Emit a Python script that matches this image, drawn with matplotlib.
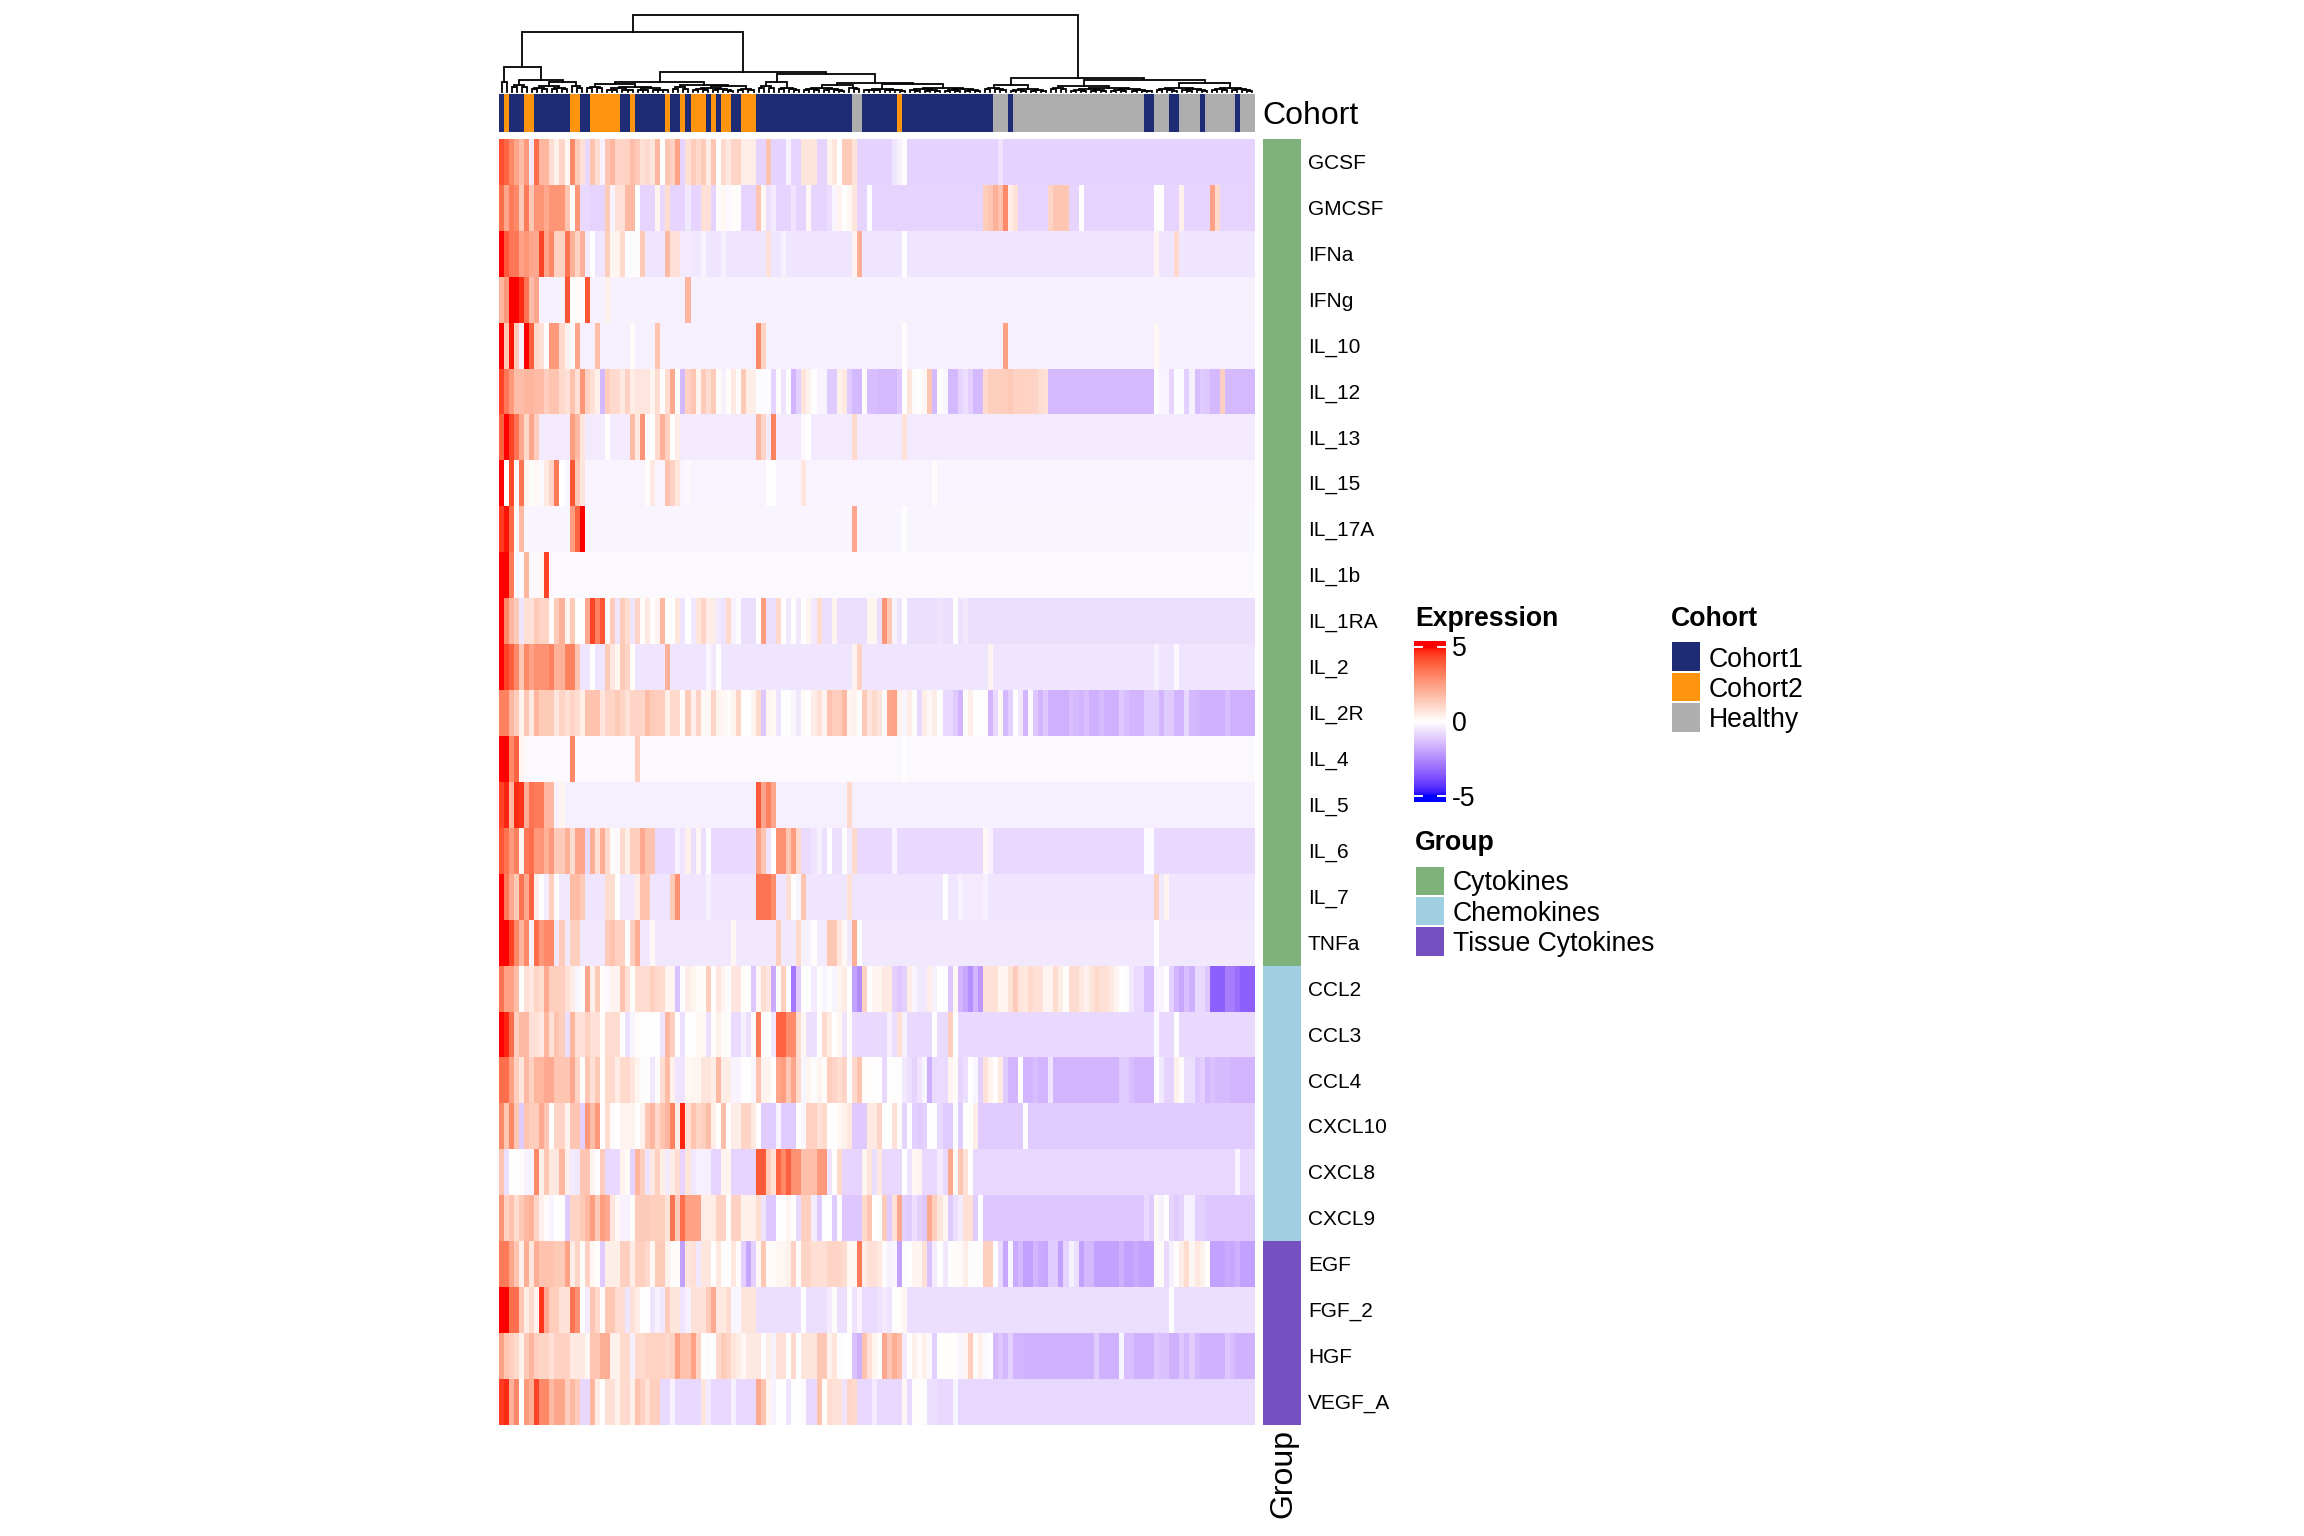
import numpy as np
import matplotlib
matplotlib.use("Agg")
import matplotlib.pyplot as plt
from matplotlib.colors import ListedColormap, Normalize
from matplotlib.patches import Rectangle

plt.rcParams['font.family'] = ['Liberation Sans', 'DejaVu Sans']

W, H = 2304, 1536

# heatmap values, one list per row
GCSF = [4.2,3.8,3,2.3,1.7,2.6,-.5,3.6,1.9,1.9,.9,.4,1.1,.2,3,1.4,.8,-.8,1.6,.9,-.3,1.5,1.9,1.1,1.1,1.2,1.7,1.4,.8,.95,.7,1.9,0,1.5,1.2,2.4,-.9,.8,1.35,1,1.35,.5,1.5,0,1,.6,1.1,1.1,.5,.5,.5,-.9,-.9,1.6,-.95,-.95,-.95,-.3,-.9,-.9,.7,.7,.7,-.9,-.9,.35,.65,0,1.35,1.35,.75] + [-.95]*7 + [-.55,-.3,0] + [-.95]*18 + [-.6] + [-.95]*50
GMCSF = [3.6,2.3,3.3,3,1.4,3.3,1.45,2.7,2.7,2.2,2.7,2.7,2.7,1.5,0,2.7,-.8,-.8,-.9,-.9,-.9,1.4,-.25,.8,.8,1.8,1.8,0,-.9,-.9,-.9,.3,-.8,.9,-.9,-.9,-.9,-.5,-.9,-.9,.8,.8,-.9,.1,.2,-.15,.05,.05,-.9,-.9,-.9,1.5,.2,-.7,-.4,-.9,-.9,-.9,-.6,-.9,-.9,.2,-.9,-.9,-.9,-.7,-.2,.35,0,.25,.7,-.9,-.9,-.1,-.9] + [-.9]*21 + [1.3,1.5,2,1.6,3,.5,.8] + [-.9]*6 + [1.1,1.5,1.5,1.5,-.9,-.9,0] + [-.9]*14 + [.03,.03,-.9,-.9,-.9,.4] + [-.9]*5 + [2.4,1] + [-.9]*7
IFNa = [5,4,3.4,3.4,2.4,2.7,2.3,2.2,4.4,2.3,3,1.2,1.2,3.5,2,1.1,2,-.4,0,-.55,-.55,1.3,.3,.3,1,-.1,-.1,.05,1.4,-.55,-.55,-.55,-.55,1.8,.8,.8,-.45,-.45,-.5,-.5,-.25,-.55,-.55,-.55,-.35] + [-.55]*8 + [.8,-.55,-.55,-.3] + [-.55]*13 + [.35,2.1,-.55,-.55,-.55] + [-.55]*5 + [0] + [-.55]*49 + [.35,-.55,-.55,-.55,1] + [-.55]*15
IFNg = [1.9,2.6,5,5,4.7,3.5,1.7,2.3] + [-.3]*5 + [4.1,.05,.15,-.1,4.1,-.3,-.3,-.3,.4] + [-.3]*15 + [1.9] + [-.3]*37 + [-.3]*75
IL_10 = [5,1.45,4.9,1.4,-.3,5,3.9,1,.8,0,2.6,2.6,1,.4,-.1,2.3,-.35,-.35,-.35,1.7] + [-.35]*6 + [.15] + [-.35]*4 + [1.55] + [-.35]*19 + [3,1.2] + [-.35]*22 + [-.35]*5 + [.05] + [-.35]*19 + [2.4] + [-.35]*29 + [.2] + [-.35]*19
IL_12 = [4.4,3.4,2.6,1.7,1.7,1.9,1.9,1.75,1.75,1.25,1.55,1.55,1,.75,1.6,.8,2.7,1.2,.8,.4,-1.5,1.3,1,1,.55,1.2,.5,.65,.65,.65,.3,.9,0,.9,2.2,.1,-1.5,1.2,1.5,.3,1.35,.9,1.35,.1,-.3,.05,.55,.1,1.4,.45,.45,-.1,-.1,-.1,-.95,.1,-.6,-.05,-1.6,-1,.7,.4,-.05,-.25,-.25,-1.1,-1.1,.4,.6,-1.1,-1.5,-1.5,.05,-1.4,-1.4] + [-1.5,-1.5,-1.5,-1.5,-1.2,0,.7,.1,0,.2,1.5,-1.5,-.05,-.2,-1.5,-1.5,-.9,-.7,-1,-1.5,-1.5,1,1.25,1.25,1.25,1.3,1.4,1.2,1.2,1.15,1.2,1.1,.9,.8] + [-1.5]*21 + [-.05,-.25,-.25,-.9,-.1,-.1,-1,-.3,-1.4,-1.1,-1.2,-1.5,-1.5,1.25] + [-1.5]*6
IL_13 = [3.8,5,4.4,3.5,2.2,1,2.3,1.25] + [-.45]*6 + [2.5,1.8,.65] + [-.45]*4 + [.05] + [-.45]*4 + [1.75,.55,2.7,.1,.02,1,2,1.2,0,.5] + [-.45]*15 + [1.9,1.1,-.45,3.2] + [-.45]*5 + [-.15,0] + [-.45]*8 + [1] + [-.45]*4 + [-.45]*5 + [.75] + [-.45]*69
IL_15 = [5,0,4.3,-.1,3.5,.3,.1,.2,-.15,.6,1.1,3.3,0,-.2,4.1,1.5,.7] + [-.25]*12 + [.1,.6,-.25,-.25,1.6,1.2,.65,-.2,-.15] + [-.25]*15 + [.02,.02] + [-.25]*5 + [.65] + [-.25]*14 + [-.25]*11 + [.1] + [-.25]*63
IL_17A = [4.5,4.9,3.7,-.05,1.8] + [-.2]*9 + [2.5,3.8,5] + [-.2]*53 + [2.3] + [-.2]*4 + [-.2]*5 + [-.05] + [-.2]*69
IL_1b = [5,5,3.3,-.15,-.15,1.9,-.15,-.15,.3,4.4] + [-.15]*65 + [-.15]*75
IL_1RA = [5,3,1.9,1.4,-.6,.8,.8,1.4,1.1,1.1,.05,1.4,2,.3,1.4,.02,.02,2.3,4.4,3.2,4.1,.15,1.35,-.6,1.35,.9,-.6,1.1,.05,.55,.02,.35,1.9,.02,.02,.65,-.6,0,-.5,.7,1.1,.5,.5,-.5,-.6,1,-.3,-.1,-.7,-.7,-.7,0,2.5,-.7,-.7,1,0,-.5,-.05,-.5,0,.3,-.5,1,-.7,-.7,.35] + [-.7]*6 + [.3,.3] + [-.7,2.7,1.45,-.3,-.6,0] + [-.7]*6 + [-.6,-.7,-.7,0,-.65,-.5] + [-.7]*57
IL_2 = [5,4.4,3.9,3,1.45,3,2.4,2.8,2.8,2.8,3.2,2,2,3.2,3.2,1.55,-.55,-.55,0,-.55,-.55,1.4,.65,.25,1.4,1.1,.05] + [-.55]*6 + [2] + [-.55]*7 + [-.2,-.5,0] + [-.55]*26 + [.35,1.2,-.55,-.55,-.55] + [-.55]*22 + [.35] + [-.55]*32 + [-.3,-.55,-.55,-.55,-.15] + [-.55]*15
IL_2R = [3.2,3.2,1.85,1.35,.35,1.45,.55,1.9,1.4,1.4,1.4,.65,1.1,.8,1.1,.9,.45,1.6,1.6,1.6,.65,1.1,1.1,1.4,1.1,.75,1.1,1.1,1.1,1.75,1.4,1.3,1.3,.4,1,1,.1,1.35,.4,1.1,.2,.2,1.1,.35,.2,.1,.35,1.1,.02,.02,.3,1,-1.2,.3,.2,-.6,-.05,0,-.2,-.5,.15,.02,.5,.8,.3,1.6,1.3,1.3,1.8,.3,.4,0,1.4,.65,1] + [.7,.1,2.3,2.4,.4,-.2,.5,.1,-.8,.45,.25,.5,0,-.8,-.8,-1.1,-1.6,.1,.45,0,-.05,.1,-1.6,-.8,.2,-1.5,-1,0,-.5,-1.6,-.15,-1.2,-1.6,-1.2,-1.7,-1.7,-1.7,-1.7,-1.4,-1.5,-1.6,-1.4,-1.7,-1.7,-1.45,-1.7,-1.7,-1.7,-1.2,-1.4,-1.6,-1.6,-1.6,-1.1,-1.1,-1.1,-1.6,-1.1,-1.15,-1.6,-1.6,-.85,-1.5,-1.55,-1.7,-1.7,-1.7,-1.7,-1.7,-1.4,-1.7,-1.7,-1.7,-1.7,-1.7]
IL_4 = [5,5,3,3.8,.3] + [-.15]*9 + [3] + [-.15]*12 + [1.3] + [-.15]*47 + [-.15]*5 + [0] + [-.15]*69
IL_5 = [4.4,4.8,1.85,4.7,4.6,2.1,3.5,3.3,3.3,1.85,1.85,-.3,.3] + [-.35]*38 + [4,2.3,3.2,2.3] + [-.35]*14 + [1] + [-.35]*5 + [-.35]*75
IL_6 = [4.1,3.5,2.6,3.2,.3,3.4,3.6,2.6,2.7,2,2.6,1.35,1.35,2,.9,2.3,2.3,-.8,2.1,.8,2.1,1,.15,-.15,1,.45,1.3,1.3,2.2,1.6,1.6,-.8,-.8,-.8,-.8,-.3,-.6,.4,-.7,.25,-.7,-.1] + [-.8]*9 + [2.4,1.5,-.6,0,2.8,2.8,1.45,2.5,1,-.75,-.75,-.6,-.35,-.7,0,-.7,-.7,0,-.5,1] + [-.8]*4 + [-.8]*3 + [-.25] + [-.8]*17 + [.2,-.3] + [-.8]*30 + [-.1,-.1] + [-.8]*20
IL_7 = [5,3.3,2.2,1.4,3.5,2.2,3.8,.45,0,-.4,1.25,.05,-.5,-.5,1.75,1.75,1.4] + [-.55]*4 + [.9,.9,0,-.5,-.5,-.5,.5,1.55,1.55] + [-.55]*4 + [1.4,2.8] + [-.55]*5 + [-.35] + [-.55]*9 + [3.5,3.5,3.5,2.9,-.55,-.55,.8,-.05,-.2,1.55] + [-.55]*8 + [.8] + [-.55]*5 + [-.55]*13 + [0,-.55,-.55,-.3,-.45,-.45,-.45,-.45,-.35] + [-.55]*33 + [1.2,-.5,.35] + [-.55]*17
TNFa = [5,5,4.4,3,1.9,3,-.3,3.6,2.6,3,3,-.5,1.35,-.5,1.25,1.25] + [-.5]*5 + [1.35,1.6,1.2,1.2,0,1.25,2.1,-.5,-.5,.2] + [-.5]*15 + [.25] + [-.5]*8 + [1.3,-.5,-.5,-.5,1,-.3,-.3,.05,-.4,-.4,1.45,1.45,.65,.2,-.5,2.1,0,-.5,-.5,-.5] + [-.5]*55 + [0] + [-.5]*19
CCL2 = [3.5,2.4,2.4,1.75,0,.8,.6,1.1,.9,2.2,1.25,1.25,1.25,.8,.5,-.2,-.1,2.3,.4,1.4,.05,-.15,.35,.35,1.6,.8,.05,.9,.9,.9,1.25,1,.9,.3,.3,-1.3,-.05,.5,.3,.1,.1,1.3,.05,.65,.3,-.1,.65,.65,.05,0,-1.2,.2,.9,.65,-1.8,.1,1.25,.1,-2.9,-1.1,.02,.02,-.4,0,-.2,-.05,-.2,.3,.5,0,-2,-2.5,1.2,0,.3] + [.3,.55,.55,-1,-1.2,-1,.5,-.2,-.5,-.5,.5,-.3,0,-.1,-1.2,.2,-1.6,-1.9,-2.4,-1.6,-2.2,.75,.75,.75,.3,.3,.75,1.35,.7,.6,1,.8,.8,.35,.35,.9,.5,.05,.9,.9,.6,.4,.7,1,.8,.8,.55,.3,0,.1,-.5,-.75,-.75,-1.4,-1.4,-.25,-.25,0,-1,-1.6,-1.9,-1.4,-1.7,-.8,-.8,-1.2,-3.4,-3.4,-3.4,-2.8,-2.8,-3.1,-3.4,-3.4,-3.4]
CCL3 = [5,4.8,3.6,1.25,1.8,1.8,.8,.8,.55,1.9,.8,1.6,1.25,-.7,1.9,.8,.8,1.2,.8,.8,.05,.9,.9,.9,0,-.7,-.2,.1,-.05,-.05,-.05,-.05,-.6,1.9,1.25,0,-.7,0,0,.25,.25,-.7,.1,.4,.1,.1,-.75,-.75,-.35,-.7,.1,3.3,0,0,-.5,3.8,3.8,2.9,2.9,.9,.25,-.7,-.7,0,1,.5,0,.25,-.6,.1,-.8,-.8,-.8,-.8,-.8] + [-.75,-.8,-.35,-.7,.8,-.3,-.8,-.8,-.8,-.8,-.8,0,-.75,-.75,1.25,0] + [-.8]*39 + [-.15,-.8,-.8,-.8,0] + [-.8]*15
CCL4 = [3.6,3.6,2.4,1.25,.65,1.8,1.2,1.9,1.9,2.2,2.2,1.5,1.5,1.5,2.2,1.1,.05,1.5,.8,1.4,.02,1,1,.5,1,1,.65,.3,.1,-.05,-.5,.1,.9,1.75,.4,-.6,-.6,.2,.3,.3,.7,.7,.5,1.8,.5,.5,-.25,-.25,0,0,-.2,1.55,.35,.35,0,2.3,2.5,1.45,2.3,1,-.2,.3,.1,.35,.1,1.3,1.1,.9,1.1,0,1,1.6,.05,.05,.05] + [0,-.85,.05,-.05,-.05,-.5,-.7,-.9,-.6,-.2,-1.7,-.75,-.75,-.75,.3,.15,-.9,-.7,0,-.2,-1,.8,.35,0,.6,-1.1,-1.6,-1.6,0,-1.6,-1.6,-1.4,-1.6,-1.6,-.6] + [-1.6]*13 + [-1.1,-1.1,-1.4,-1.6,-1.6,-1.6,-1.6,0,-.5,-.9,-.9,.4,.1,-.7,-.7,-1.2,-1,-1.5,-1.3,-1.45,-1.45,-1.45] + [-1.6]*5
CXCL10 = [3,1.45,3,1.45,-1.1,1.55,1.3,1.3,2.2,1.45,0,1.1,1.1,.35,1.5,1.5,-1,2.6,1.7,2.6,.02,.9,.1,.02,.35,.35,.35,0,.4,1.45,1.9,1,1.55,1.9,3.2,.5,4.8,.8,1.55,1.1,1.25,1.7,.45,.02,1.65,0,.5,.5,1.1,1.1,.55,0,-1.1,-1.1,-1.1,-.25,-1.1,-1.1,-1.1,.02,-.2,1.2,1.2,.8,1,-.05,-.05,.2,.4,.65,-1.15,-1.15,-1.15,.55,.55] + [1.1,0,0,.8,.1,-.9,0,-1,-1.1,-1,0,0,-.8,-1.1,-1.1,-.1,-1.1,.02,.05,.5] + [-1.1]*9 + [0] + [-1.1]*45
CXCL8 = [1.5,-.7,0,.05,.1,-.25,-.25,3,.4,1.45,.6,.6,1.9,.4,-.4,-.5,1.5,1.5,.3,-.1,1.35,-.8,-.8,-.8,.35,.15,-.9,1.9,1.25,-.6,.6,1.25,.45,-.4,.5,.9,-.9,.7,-.5,-.35,-.35,-.35,-.9,-.9,.3,.3,-.9,-.9,-.9,-.9,-.9,4,4,1.3,.8,3.8,3,3.9,2.8,2.8,1.65,1.65,1.65,2.6,2.6,-.6,-.05,1,-.9,-.9,-.9,-.9,.3,.7,-.7] + [.6,-.85,-.85,-.85,-.85,0,-.6,.2,.35,-.85,-.85,-.85,-.4,-.8,2.2,.2,1.5,.8,0] + [-.85]*52 + [-.25,-.85,-.85,-.85]
CXCL9 = [2.7,1.2,1.6,.9,1.4,1.8,2,1.1,.4,.1,-.25,0,0,-1.1,1.1,1.1,1.4,1.8,2.5,1.4,2.5,2.2,.65,.2,-.3,-.3,.1,1.35,1.35,1.35,1.25,1.25,1.25,.75,3.5,1.35,3.6,2.4,2.4,2.4,.5,.5,.5,1.2,1.2,.1,1.2,1.2,.4,.4,.4,.9,-.6,-1.2,-1.2,0,0,.3,0,-.8,1.25,1.25,-.4,-1.1,0,0,-1.1,0,-1.2,-1.2,-1.2,-1.2,1,1.5,0] + [-.1,1.35,-1.1,.8,2.2,-1,-1.1,-.7,-1,-1.2,2.2,1.3,.7,.3,-1.1,-.7,-.4,.8,.8,-1.1,0] + [-1.2]*32 + [-.8,-1.1,.2,-.3,0,-.9,-1.1,-.9,-.3,-.3,-1,-1] + [-1.2]*10
EGF = [3.3,3.3,2.3,1.55,.4,2.1,.7,2.1,1.6,1.6,1.6,1.4,1.4,2.4,.5,1.1,.1,1.2,.2,.05,-1.1,.45,.45,.45,1.25,1.25,.5,1.25,1.25,1,.2,1.4,1.4,.4,.1,.1,-2,.7,.8,-.5,.65,.65,0,.6,-.05,-.05,.6,.1,-1,-1.9,-1,.2,1.45,.1,.1,.25,.25,.4,1.2,.1,1.1,1.1,.85,.85,.85,1.1,1.1,1.1,.9,.2,.2,3.3,.5,.8,.8] + [.6,-.1,-.3,-.2,-2,-.1,0,.3,.3,.8,-1.3,-.4,0,-.5,0,.15,.15,.5,-.1,-.05,0,1.25,1.25,0,-.8,-1.9,-.2,-1.8,-1.5,-2,-2,-1.6,-1.8,-1.9,-1.1,-1.1,-2,-.9,-.3,-.7,-2,-1.5,-1.5] + [-2]*5 + [-1.7,-2,-2,-1.8,-2,-2,-2,.15,.15,-.8,-.3,.05,.5,.9,.25,.6,.4,0,-2,-2,-2,-1.8,-1.9,-1.7,-2,-2,-2]
FGF_2 = [5,5,3.6,3.6,1.45,.5,1,.35,4.6,2.2,1.3,1.3,.75,.75,3.5,2.8,.05,-.45,1.5,1,.1,1.45,1.45,.9,.9,-.55,.8,.5,0,0,-.6,-.3,-.5,1.35,.7,.7,-.6,-.3,.75,.75,.75,1.35,2.2,.6,.6,.9,-.2,-.2,.7,.7,.7] + [-.7]*9 + [0,-.7,-.7,-.7,-.7,-.4,.1,-.7,-.7,.05,-.6,-.25,-.75,-.75,-.75] + [-.65,-.45,-.6,.05,.05,.3] + [-.7]*52 + [-.05] + [-.7]*16
HGF = [2.4,1.45,1.25,1,.4,1.4,1.9,1.25,1.1,1.1,.8,1.2,1.2,1.2,.55,.55,.55,.25,1.5,1.5,2.1,2.1,.4,.4,1,1,-.35,1,1,1.15,1.15,1.15,1.2,1,1.2,2.4,1.6,1.55,2.4,1.1,0,-.1,0,1,1.4,1.1,.7,.5,.2,.55,.6,.6,0,.5,-.3,.8,.8,0,1,0,.7,.7,.7,1.45,1.45,.4,.7,.1,0,0,-1.3,-1.7,1.6,.8,.3] + [.05,2.2,1.5,2.1,1.7,-.4,0,.4,.1,.4,-.15,-1,0,.05,.05,.05,-.2,.25,1.3,.1,.4,-.15,0,-1.5,-1.2,-1.5,-1,-1.6,-1.6] + [-1.65]*14 + [-1.1] + [-1.65]*4 + [-.2,-1.4,-1.4] + [-1.65]*4 + [-1.2,-1.35,-1.35,-1.65,-1.65,-1.2,-1.5,-1.1,-1.5] + [-1.65]*5 + [-1.2,-1.4] + [-1.65]*4
VEGF_A = [4.5,4.7,2,3,0,2.6,2.1,4.4,3,3,1.8,2.3,2.3,1.25,1.8,1.35,-.85,-.85,1.9,.5,0,.85,.85,.4,.95,.95,.4,1.6,1.2,.8,1.25,1.25,-.8,-.8,-.3] + [-.85]*5 + [.7,-.4] + [-.85]*4 + [-.3] + [-.85]*4 + [2.2,1.55,.3,-.3,0,0,-.6,-.05,-.05,-.1,-.85,-.85,1.6,.1,.9,.75,.75,-.6,1.1,1,-.85,-.85,-.85,-.4] + [-.85]*5 + [.25,-.8,.05,.05,-.1,-.7,-.7,-.85,-.8,-.85,-.2] + [-.85]*59

row_names = ['GCSF', 'GMCSF', 'IFNa', 'IFNg', 'IL_10', 'IL_12', 'IL_13', 'IL_15', 'IL_17A', 'IL_1b',
             'IL_1RA', 'IL_2', 'IL_2R', 'IL_4', 'IL_5', 'IL_6', 'IL_7', 'TNFa', 'CCL2', 'CCL3', 'CCL4',
             'CXCL10', 'CXCL8', 'CXCL9', 'EGF', 'FGF_2', 'HGF', 'VEGF_A']
rows = [GCSF, GMCSF, IFNa, IFNg, IL_10, IL_12, IL_13, IL_15, IL_17A, IL_1b, IL_1RA, IL_2, IL_2R, IL_4, IL_5,
        IL_6, IL_7, TNFa, CCL2, CCL3, CCL4, CXCL10, CXCL8, CXCL9, EGF, FGF_2, HGF, VEGF_A]

bad = {n: len(r) for n, r in zip(row_names, rows) if len(r) != 150}
if bad:
    raise SystemExit(str(bad))

# top and side annotations: 0 Cohort1, 1 Cohort2, 2 Healthy
cohort_runs = [(0,1),(1,1),(0,3),(1,2),(0,7),(1,2),(0,2),(1,6),(0,2),(1,1),(0,6),(1,1),(0,2),(1,1),(0,1),(1,3),
               (0,1),(1,1),(0,1),(1,2),(0,2),(1,3),(0,19),(2,2),(0,7),(1,1),(0,18),(2,3),(0,1),(2,26),(0,2),(2,3),
               (0,2),(2,4),(0,1),(2,6),(0,1),(2,3)]
group_runs = [(0,18),(1,6),(2,4)]
cohort_names = ['Cohort1', 'Cohort2', 'Healthy']
cohort_colors = ['#1E2C76', '#FF950E', '#AEAEAE']
group_names = ['Cytokines', 'Chemokines', 'Tissue Cytokines']
group_colors = ['#7FB17B', '#9FCFE0', '#764FC0']

# dendrogram: (height, left, right), [n leaves, height of that small cluster]
dend_a = (24.5, [2,9.5], (11.5, [4,7], (9.5, [8,5.5], [3,5.5])))
dend_b1 = (10, (7.5, [4,5], [13,5]), (6.5, [4,4.5], (5.5, [9,3.5], [4,3])))
dend_b2 = (17.5, (9.5, [4,6], [5,4]), (8.5, (6.5, [9,3.5], [3,3.5]), (7.5, [9,3], [15,3.5])))
dend_r = (13.8, (6.5, [5,3.5], [8,2.5]), (11.5, (5.5, [4,3.5], [17,4]), (8.5, [11,3.5], [9,3.5])))
dend_tree = (77, (59.5, dend_a, (19.5, dend_b1, dend_b2)), dend_r)


def lab_colors():
    # blue-white-red ramp interpolated in LAB like circlize does
    def to_lab(c):
        c = np.array(c, float)
        c = np.where(c > 0.04045, ((c + 0.055) / 1.055) ** 2.4, c / 12.92)
        m = np.array([[0.4124, 0.3576, 0.1805], [0.2126, 0.7152, 0.0722], [0.0193, 0.1192, 0.9505]])
        xyz = m @ c / np.array([0.9505, 1.0, 1.089])
        f = np.where(xyz > 0.008856, np.cbrt(xyz), 7.787 * xyz + 16 / 116)
        return np.array([116 * f[1] - 16, 500 * (f[0] - f[1]), 200 * (f[1] - f[2])])

    def to_rgb(lab):
        fy = (lab[0] + 16) / 116
        f = np.array([fy + lab[1] / 500, fy, fy - lab[2] / 200])
        xyz = np.where(f ** 3 > 0.008856, f ** 3, (f - 16 / 116) / 7.787) * np.array([0.9505, 1.0, 1.089])
        m = np.array([[3.2406, -1.5372, -0.4986], [-0.9689, 1.8758, 0.0415], [0.0557, -0.2040, 1.0570]])
        c = np.clip(m @ xyz, 0, 1)
        return np.clip(np.where(c > 0.0031308, 1.055 * c ** (1 / 2.4) - 0.055, 12.92 * c), 0, 1)

    blue, white, red = to_lab([0, 0, 1]), to_lab([1, 1, 1]), to_lab([1, 0, 0])
    out = []
    for t in np.linspace(0, 1, 128):
        out.append(to_rgb(blue + (white - blue) * t))
    for t in np.linspace(0, 1, 128):
        out.append(to_rgb(white + (red - white) * t))
    return ListedColormap(out)


def px_axes(x0, y0, x1, y1):
    ax = fig.add_axes([x0 / W, 1 - y1 / H, (x1 - x0) / W, (y1 - y0) / H])
    ax.axis('off')
    return ax


def px_text(x, y, s, **kw):
    kw.setdefault('va', 'center')
    kw.setdefault('ha', 'left')
    fig.text(x / W, 1 - y / H, s, **kw)


fig = plt.figure(figsize=(W / 100, H / 100), dpi=100)
cmap = lab_colors()
norm = Normalize(-5, 5)

# main heatmap
ax = px_axes(499, 139, 1255, 1425)
ax.imshow(np.array(rows), cmap=cmap, norm=norm, aspect='auto', interpolation='nearest')

# cohort bar
cohort = []
for code, n in cohort_runs:
    cohort += [code] * n
ax_c = px_axes(499, 94, 1255, 132)
ax_c.imshow([cohort], cmap=ListedColormap(cohort_colors), vmin=0, vmax=2, aspect='auto', interpolation='nearest')
px_text(1262, 116, 'Cohort', fontsize=23)

# group bar
group = []
for code, n in group_runs:
    group += [[code]] * n
ax_g = px_axes(1263, 139, 1301, 1425)
ax_g.imshow(group, cmap=ListedColormap(group_colors), vmin=0, vmax=2, aspect='auto', interpolation='nearest')
px_text(1283, 1518, 'Group', fontsize=23, rotation=90, ha='center', va='bottom')

# row labels
row_h = (1425 - 139) / len(row_names)
for i, name in enumerate(row_names):
    px_text(1308, 140.5 + row_h * (i + 0.5), name, fontsize=15)

# dendrogram
ax_d = px_axes(499, 14.5, 1255, 91.5)
ax_d.set_xlim(0, 150)
ax_d.set_ylim(0, 77)
next_leaf = [0]


def draw_pair(h, xl, hl, xr, hr):
    ax_d.plot([xl, xl, xr, xr], [hl, h, h, hr], color='black', lw=1.3, solid_joinstyle='miter', clip_on=False)
    return (xl + xr) / 2


def draw_cluster(n, h):
    if n == 1:
        x = next_leaf[0] + 0.5
        next_leaf[0] += 1
        return x, 0
    xl, hl = draw_cluster(n // 2, h * 0.62)
    xr, hr = draw_cluster(n - n // 2, h * 0.62)
    return draw_pair(h, xl, hl, xr, hr), h


def draw_node(node):
    if isinstance(node, list):
        return draw_cluster(node[0], node[1])
    xl, hl = draw_node(node[1])
    xr, hr = draw_node(node[2])
    return draw_pair(node[0], xl, hl, xr, hr), node[0]


draw_node(dend_tree)

# expression colour legend
px_text(1415, 619.5, 'Expression', fontsize=19.2, fontweight='bold')
ax_l = px_axes(1414, 641, 1446, 802)
grad = np.linspace(5.38, -5.38, 161).reshape(-1, 1)
ax_l.imshow(grad, cmap=cmap, norm=norm, aspect='auto', extent=(0, 1, -5.38, 5.38), interpolation='bilinear')
ax_l.set_xlim(0, 1)
ax_l.set_ylim(-5.38, 5.38)
for v in [5, -5]:
    ax_l.plot([0, 0.25], [v, v], color='white', lw=1.4)
    ax_l.plot([0.75, 1], [v, v], color='white', lw=1.4)
for v, label in [(5, '5'), (0, '0'), (-5, '-5')]:
    px_text(1452, 722 - v * 15 + 2, label, fontsize=19.2)


def swatches(x, y, names, colors):
    for i, (name, col) in enumerate(zip(names, colors)):
        fig.add_artist(Rectangle((x / W, 1 - (y + 30.4 * i + 28.5) / H), 28 / W, 28.5 / H,
                                 transform=fig.transFigure, facecolor=col, edgecolor='none'))
        px_text(x + 37, y + 30.4 * i + 17, name, fontsize=19.2)


px_text(1415, 843.5, 'Group', fontsize=19.2, fontweight='bold')
swatches(1416, 866.5, group_names, group_colors)
px_text(1671, 619.5, 'Cohort', fontsize=19.2, fontweight='bold')
swatches(1672, 642.5, cohort_names, cohort_colors)

fig.savefig('out.png', dpi=100, facecolor='white')
